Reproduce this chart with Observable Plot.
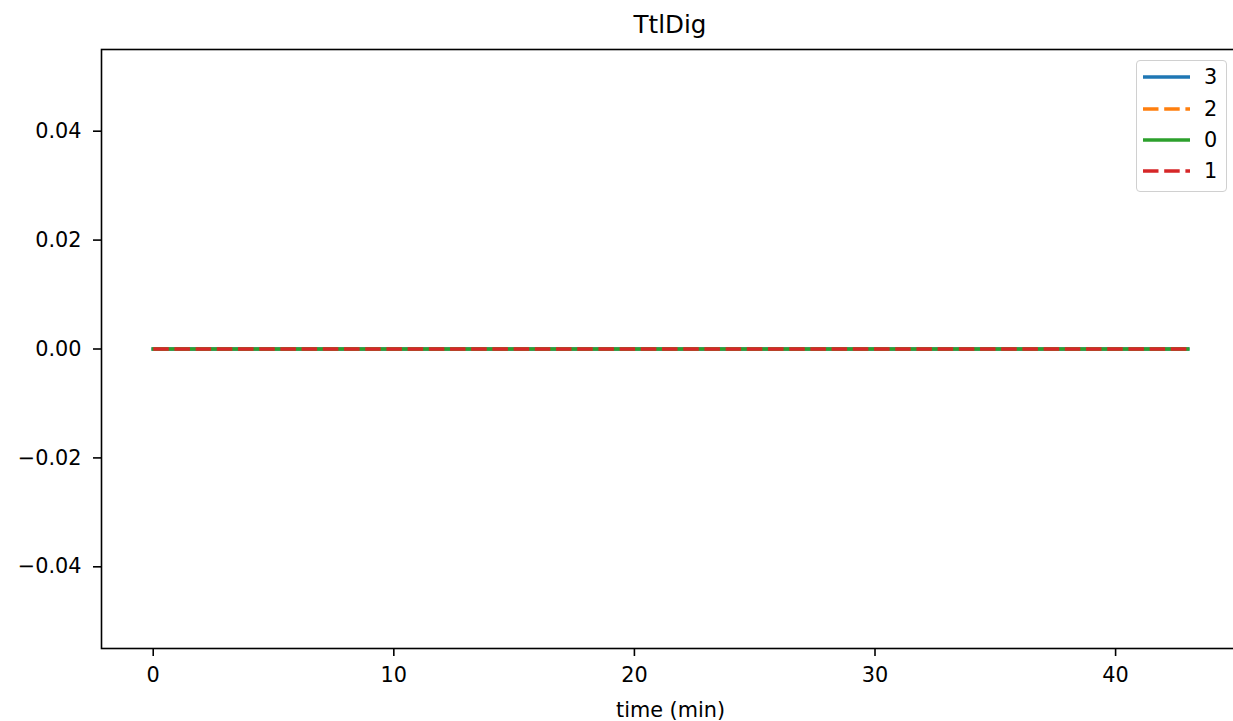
<!DOCTYPE html>
<html><head><meta charset="utf-8">
<script src="https://cdn.jsdelivr.net/npm/d3@7"></script>
<script src="https://cdn.jsdelivr.net/npm/@observablehq/plot@0.6"></script>
<style>
html,body{margin:0;padding:0;background:#fff;overflow:hidden;width:1233px;height:721px;}
#wrap{position:relative;width:1233px;height:721px;font-family:"DejaVu Sans",sans-serif;color:#000;overflow:hidden;}
#title{position:relative;height:40px;width:1240px;}
#title span{position:absolute;left:101px;width:1138px;top:12px;text-align:center;font-size:24.6px;line-height:26px;}
#chart{width:1240px;}
#chart svg{max-width:none !important;}
#legend{position:absolute;left:1136px;top:60px;width:91px;height:132px;box-sizing:border-box;border:1.5px solid #d0d0d0;border-radius:4px;background:rgba(255,255,255,0.8);}
#legend svg{position:absolute;left:-1.5px;top:-1.5px;}
</style>
</head><body>
<div id="wrap">
  <div id="title"><span>TtlDig</span></div>
  <div id="chart"></div>
  <div id="legend"></div>
</div>
<script>
// time axis (minutes)
const time = [0,1,2,3,4,5,6,7,8,9,10,11,12,13,14,15,16,17,18,19,20,21,22,23,24,25,26,27,28,29,30,31,32,33,34,35,36,37,38,39,40,41,42,43];
// series values (all flat at zero)
const series3 = [0,0,0,0,0,0,0,0,0,0,0,0,0,0,0,0,0,0,0,0,0,0,0,0,0,0,0,0,0,0,0,0,0,0,0,0,0,0,0,0,0,0,0,0];
const series2 = [0,0,0,0,0,0,0,0,0,0,0,0,0,0,0,0,0,0,0,0,0,0,0,0,0,0,0,0,0,0,0,0,0,0,0,0,0,0,0,0,0,0,0,0];
const series0 = [0,0,0,0,0,0,0,0,0,0,0,0,0,0,0,0,0,0,0,0,0,0,0,0,0,0,0,0,0,0,0,0,0,0,0,0,0,0,0,0,0,0,0,0];
const series1 = [0,0,0,0,0,0,0,0,0,0,0,0,0,0,0,0,0,0,0,0,0,0,0,0,0,0,0,0,0,0,0,0,0,0,0,0,0,0,0,0,0,0,0,0];
const seriesNames = ["3","2","0","1"];
const seriesColors = ["#1f77b4","#ff7f0e","#2ca02c","#d62728"];
const seriesDashed = [false,true,false,true];
const xTicks = [0,10,20,30,40];
const yTicks = [-0.04,-0.02,0,0.02,0.04];

const seriesValues = [series3, series2, series0, series1];
const lineMarks = seriesValues.map((vals, k) => {
  const data = time.map((t, i) => ({time: t, value: vals[i]}));
  return Plot.line(data, {
    x: "time", y: "value",
    stroke: seriesColors[k], strokeWidth: 3.5,
    strokeDasharray: seriesDashed[k] ? "15.5,5.7" : null,
    strokeLinecap: seriesDashed[k] ? "butt" : "square"
  });
});

const chart = Plot.plot({
  width: 1240, height: 681,
  marginLeft: 101, marginRight: 1, marginTop: 9, marginBottom: 73,
  style: {fontFamily: "DejaVu Sans", fontSize: "20.8px", color: "#000", background: "#fff", overflow: "visible", maxWidth: "none"},
  x: {domain: [-2.15, 45.15]},
  y: {domain: [-0.055, 0.055]},
  marks: [
    Plot.axisX({ticks: xTicks, tickSize: 8, tickPadding: 11, strokeWidth: 1.6, fontSize: 20.8,
      label: "time (min)", labelAnchor: "center", labelArrow: "none", labelOffset: 68}),
    Plot.axisY({ticks: yTicks, tickFormat: d3.format(".2f"), tickSize: 8, tickPadding: 12, strokeWidth: 1.6, fontSize: 20.8, label: null}),
    ...lineMarks,
    Plot.frame({stroke: "#000", strokeWidth: 1.6})
  ]
});
document.getElementById("chart").appendChild(chart);

// legend
const ns = "http://www.w3.org/2000/svg";
const lsvg = document.createElementNS(ns, "svg");
lsvg.setAttribute("width", 91); lsvg.setAttribute("height", 132);
const rowY = [17, 49, 80, 111];
seriesNames.forEach((name, k) => {
  const ln = document.createElementNS(ns, "line");
  ln.setAttribute("x1", 7); ln.setAttribute("x2", 54);
  ln.setAttribute("y1", rowY[k]); ln.setAttribute("y2", rowY[k]);
  ln.setAttribute("stroke", seriesColors[k]); ln.setAttribute("stroke-width", 3.5);
  if (seriesDashed[k]) ln.setAttribute("stroke-dasharray", "15.5,5.7");
  lsvg.appendChild(ln);
  const tx = document.createElementNS(ns, "text");
  tx.setAttribute("x", 68); tx.setAttribute("y", rowY[k]);
  tx.setAttribute("dy", "0.36em");
  tx.setAttribute("font-size", 20.8); tx.setAttribute("font-family", "DejaVu Sans");
  tx.textContent = name;
  lsvg.appendChild(tx);
});
document.getElementById("legend").appendChild(lsvg);
</script>
</body></html>
